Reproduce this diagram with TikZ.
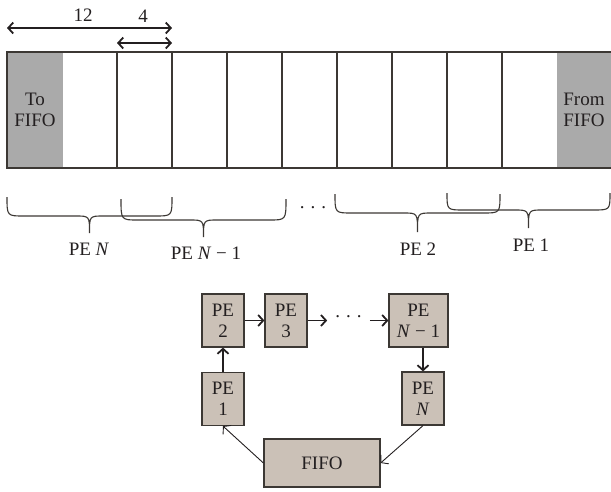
\documentclass[tikz,border=0pt]{standalone}
\usepackage{fontspec}
\setmainfont{Liberation Serif}
\usetikzlibrary{arrows.meta}
\definecolor{pebox}{HTML}{CBC1B7}
\definecolor{pegray}{HTML}{AAAAAA}
\definecolor{edgec}{HTML}{3C3834}
\definecolor{ink}{HTML}{231F20}
\newcommand\pebrace[6]{% x0, xm, x1, ytop, yline, ytip
  \draw[pebracestyle] (#1,#4) .. controls (#1,#5) .. (#1+17,#5) -- (#2-14,#5)
    .. controls (#2,#5) .. (#2,#6) .. controls (#2,#5) .. (#2+14,#5) -- (#3-17,#5)
    .. controls (#3,#5) .. (#3,#4);}
\begin{document}
\begin{tikzpicture}[x=1pt,y=-1pt,
  font=\fontsize{19}{21}\selectfont, text=ink,
  pebx/.style={draw=edgec,line width=1.2pt,fill=pebox,align=center,inner sep=0pt,minimum width=42pt,minimum height=53pt},
  graycell/.style={fill=pegray,align=center,inner sep=0pt,minimum height=116pt},
  whitecell/.style={draw=edgec,line width=1.2pt,inner sep=0pt,minimum width=55pt,minimum height=116pt},
  thickarrow/.style={-{Straight Barb[length=5pt,width=11pt]},line width=1.8pt,draw=ink},
  thinarrow/.style={-{Straight Barb[length=5pt,width=12pt]},line width=0.9pt,draw=ink},
  dimarrow/.style={{Straight Barb[length=5pt,width=11pt]}-{Straight Barb[length=5pt,width=11pt]},line width=1.8pt,draw=ink},
  bandline/.style={draw=edgec,line width=1.2pt},
  pebracestyle/.style={draw=edgec,line width=1.1pt},
  lbl/.style={inner sep=0pt}]
\useasboundingbox (0,0) rectangle (611,491);

% band
\node[graycell,minimum width=56pt] (tofifo) at (35,110) {To\\FIFO};
\node[graycell,minimum width=54pt] (fromfifo) at (584,110) {From\\FIFO};
\draw[bandline] (611,52) -- (7,52) -- (7,168) -- (611,168);
\node[whitecell] (w1) at (144.5,110) {};
\node[whitecell] (w2) at (254.5,110) {};
\node[whitecell] (w3) at (364.5,110) {};
\node[whitecell] (w4) at (474.5,110) {};

% dimension arrows
\coordinate (d12a) at (7,28);
\coordinate (d12b) at (172,28);
\coordinate (d4a) at (117,43);
\coordinate (d4b) at (172,43);
\draw[dimarrow] (d12a) -- (d12b);
\draw[dimarrow] (d4a) -- (d4b);
\node[lbl] (l12) at (83,15) {12};
\node[lbl] (l4) at (143,16) {4};

% braces
\pebrace{7}{89.5}{172}{197}{216}{233}
\pebrace{121}{203.5}{286}{199}{220}{237}
\pebrace{335}{417.5}{500}{194}{213}{232}
\pebrace{447}{528.5}{610}{193}{210}{228}
\node[lbl] (bn) at (89,249) {PE \textit{N}};
\node[lbl] (bn1) at (206,253) {PE \textit{N} − 1};
\node[lbl] (b2) at (418,249) {PE 2};
\node[lbl] (b1) at (531,245) {PE 1};
\node[lbl] (bdots) at (313,208) {.\hspace{6pt}.\hspace{6pt}.};

% ring of PEs
\node[pebx] (pe2) at (223,320.5) {PE\\2};
\node[pebx] (pe3) at (286,320.5) {PE\\3};
\node[pebx,minimum width=59pt] (pen1) at (418.5,320.5) {PE\\\textit{N} − 1};
\node[pebx] (pe1) at (223,399) {PE\\1};
\node[pebx] (pen) at (423,398.5) {PE\\\textit{N}};
\node[pebx,minimum width=116pt,minimum height=48pt] (fifo) at (322,463) {FIFO};
\node[inner xsep=8pt,inner ysep=2pt,minimum width=42pt] (rdots) at (348.5,317) {.\hspace{6pt}.\hspace{6pt}.};

\draw[thickarrow] (pe2) -- (pe3);
\draw[thickarrow] (pe3.east |- pe3.center) -- (rdots.west |- pe3.center);
\draw[thickarrow] (rdots.east |- pe3.center) -- (pen1.west |- pe3.center);
\draw[thickarrow] (pe1) -- (pe2);
\draw[thickarrow] (pen1.south -| pen.north) -- (pen.north);
\draw[thinarrow] (fifo.west) -- (pe1.south);
\draw[thinarrow] (pen.south) -- (fifo.east);
\end{tikzpicture}
\end{document}
